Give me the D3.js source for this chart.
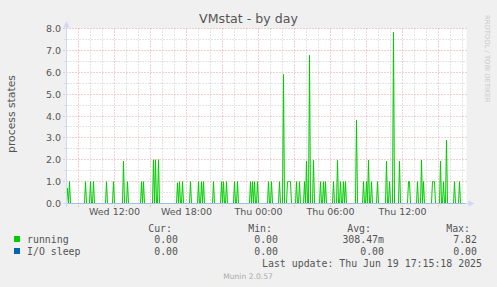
<!DOCTYPE html>
<html>
<head>
<meta charset="utf-8">
<script src="https://cdn.jsdelivr.net/npm/d3@7"></script>
<style>
  body { margin: 0; background: #f0f0f0; }
  svg { display: block; }
</style>
</head>
<body>
<svg id="chart" width="497" height="287"></svg>
<script>
const title = "VMstat - by day";
const yTitle = "process states";
const startTime = new Date(2025, 5, 18, 8, 0, 0);   // Wed 08:00, first 5 min sample
const sampleCount = 400;                              // 400 samples x 5 min
const yTickValues = [0, 1, 2, 3, 4, 5, 6, 7, 8];

// running: 5 min sample index -> value (every other sample reads 0)
const runningSlot = [1, 3, 19, 24, 27, 40, 47, 57, 61, 75, 77, 87, 89, 92,
  111, 113, 116, 124, 132, 135, 137, 147, 155, 157, 160, 168, 171,
  184, 186, 188, 191, 202, 205, 213, 217, 221, 222, 223, 224, 230, 233,
  238, 240, 243, 247, 254, 257, 259, 267, 271, 274, 277, 279, 290,
  297, 300, 302, 305, 311, 320, 323, 327, 333, 342, 343, 351, 355, 357,
  366, 367, 368, 374, 377, 380, 388, 393];
const runningValue = [0.7, 1, 1, 1, 1, 1, 1, 1.94, 1, 1, 1, 2, 2, 2,
  0.95, 1, 1, 1, 1, 1, 1, 1, 1, 1, 1, 1, 1,
  1, 1, 1, 1, 1, 1, 1, 5.9, 1, 1, 1, 1, 1, 1,
  1, 1.94, 6.79, 1.97, 1, 1, 1, 1, 1.97, 1, 1, 1, 3.82,
  1, 1, 1.99, 1, 1, 1.94, 1, 7.82, 1.94, 1, 1, 1, 1.99, 1,
  1, 1, 1, 1.94, 1, 2.9, 1, 1];
// I/O sleep: no non-zero samples
const ioSleepSlot = [];
const ioSleepValue = [];

const legendNames = ["running", "I/O sleep"];
const legendColors = ["#00cc00", "#0066b3"];
const legendHeaders = ["Cur:", "Min:", "Avg:", "Max:"];
const legendCur = ["0.00", "0.00"];
const legendMin = ["0.00", "0.00"];
const legendAvg = ["308.47m", "0.00"];
const legendMax = ["7.82", "0.00"];
const lastUpdate = "Last update: Thu Jun 19 17:15:18 2025";
const footer = "Munin 2.0.57";
const sideMark = "RRDTOOL / TOBI OETIKER";

const svg = d3.select("#chart");
const fontColor = "#555";
const axisColor = "#cfd6f8";

const x = d3.scaleTime()
  .domain([startTime, d3.timeMinute.offset(startTime, sampleCount * 5)])
  .range([66.5, 466.5]);
const y = d3.scaleLinear().domain([0, 8]).range([203.5, 28.5]);
const py = v => Math.floor(y(v)) + 0.5;

const buildSeries = (slots, vals) => d3.range(sampleCount).map(i => {
  const k = slots.indexOf(i);
  return { t: d3.timeMinute.offset(startTime, i * 5), v: k < 0 ? 0 : vals[k] };
});

// canvas
svg.append("rect")
  .attr("x", 66.5).attr("y", 28.5)
  .attr("width", 400).attr("height", 175)
  .attr("fill", "#fff");

const grid = svg.append("g").attr("fill", "none").attr("stroke-width", 1);

// minor grid
const minorX = x.ticks(d3.timeHour.every(1)).filter(d => d.getHours() % 3 !== 0);
grid.selectAll(".vmin").data(minorX).enter().append("line")
  .attr("x1", d => x(d)).attr("x2", d => x(d))
  .attr("y1", 28.5).attr("y2", 205.5)
  .attr("stroke", "#c8c8c8").attr("stroke-dasharray", "1,2");
const minorY = d3.range(0.5, 8, 1);
grid.selectAll(".hmin").data(minorY).enter().append("line")
  .attr("x1", 64.5).attr("x2", 466.5)
  .attr("y1", d => py(d)).attr("y2", d => py(d))
  .attr("stroke", "#c8c8c8").attr("stroke-dasharray", "1,2");

// major grid
const majorX = x.ticks(d3.timeHour.every(3));
grid.selectAll(".vmaj").data(majorX).enter().append("line")
  .attr("x1", d => x(d)).attr("x2", d => x(d))
  .attr("y1", 28.5).attr("y2", 206.5)
  .attr("stroke", "#e8a0a0").attr("stroke-dasharray", "1,2");
grid.selectAll(".hmaj").data(yTickValues.slice(1)).enter().append("line")
  .attr("x1", 63.5).attr("x2", 466.5)
  .attr("y1", d => py(d)).attr("y2", d => py(d))
  .attr("stroke", "#e8a0a0").attr("stroke-dasharray", "1,2");

// series
const line = d3.line().x(d => x(d.t)).y(d => y(d.v));
svg.append("path")
  .datum(buildSeries(runningSlot, runningValue))
  .attr("d", line)
  .attr("fill", "none").attr("stroke", legendColors[0]).attr("stroke-width", 1);
svg.append("path")
  .datum(buildSeries(ioSleepSlot, ioSleepValue))
  .attr("d", line)
  .attr("fill", "none").attr("stroke", legendColors[1]).attr("stroke-width", 1);

// axes + arrows
svg.append("line")
  .attr("x1", 62.5).attr("x2", 469).attr("y1", 203.5).attr("y2", 203.5)
  .attr("stroke", axisColor).attr("stroke-opacity", 0.75);
svg.append("line")
  .attr("x1", 66.5).attr("x2", 66.5).attr("y1", 207).attr("y2", 25)
  .attr("stroke", axisColor);
svg.append("path")
  .attr("d", "M468.5,200.5L474.5,203.5L468.5,206.5Z")
  .attr("fill", axisColor);
svg.append("path")
  .attr("d", "M63.5,27.5L66.5,21L69.5,27.5Z")
  .attr("fill", axisColor);

// y labels
svg.append("g").selectAll("text").data(yTickValues).enter().append("text")
  .attr("x", 61).attr("y", d => py(d) + 3.5)
  .attr("text-anchor", "end")
  .attr("font-family", "DejaVu Sans").attr("font-size", 9.5)
  .attr("fill", fontColor)
  .text(d => d.toFixed(1));

// x labels
const fmt = d3.timeFormat("%a %H:%M");
svg.append("g").selectAll("text").data(x.ticks(d3.timeHour.every(6))).enter().append("text")
  .attr("x", d => x(d)).attr("y", 215)
  .attr("text-anchor", "middle")
  .attr("font-family", "DejaVu Sans").attr("font-size", 9.5)
  .attr("fill", fontColor)
  .text(d => fmt(d));

// titles
svg.append("text")
  .attr("x", 248.5).attr("y", 23)
  .attr("text-anchor", "middle")
  .attr("font-family", "DejaVu Sans").attr("font-size", 12.6)
  .attr("fill", fontColor)
  .text(title);
svg.append("text")
  .attr("transform", "translate(15,114) rotate(-90)")
  .attr("text-anchor", "middle")
  .attr("font-family", "DejaVu Sans").attr("font-size", 10.8)
  .attr("fill", fontColor)
  .text(yTitle);
svg.append("text")
  .attr("transform", "translate(484.5,15) rotate(90)")
  .attr("font-family", "DejaVu Sans").attr("font-size", 6.8)
  .attr("fill", "#c8c8c8")
  .text(sideMark);

// legend
const mono = "DejaVu Sans Mono";
const headerX = [172, 272, 371, 470];
const valueX = [178, 278, 384, 477];
const legend = svg.append("g")
  .attr("font-family", mono).attr("font-size", 9.9).attr("fill", fontColor);
legend.selectAll(".hdr").data(legendHeaders).enter().append("text")
  .attr("x", (d, i) => headerX[i]).attr("y", 231.5)
  .attr("text-anchor", "end").text(d => d);
const columns = [legendCur, legendMin, legendAvg, legendMax];
legendNames.forEach((name, r) => {
  const by = 242.5 + r * 12;
  legend.append("rect")
    .attr("x", 14).attr("y", by - 6.5).attr("width", 6).attr("height", 6)
    .attr("fill", legendColors[r]);
  legend.append("text").attr("x", 27).attr("y", by).text(name);
  columns.forEach((col, c) => {
    legend.append("text")
      .attr("x", valueX[c]).attr("y", by)
      .attr("text-anchor", "end").text(col[r]);
  });
});
legend.append("text")
  .attr("x", 482).attr("y", 266.5)
  .attr("text-anchor", "end").text(lastUpdate);

svg.append("text")
  .attr("x", 248).attr("y", 279)
  .attr("text-anchor", "middle")
  .attr("font-family", "DejaVu Sans").attr("font-size", 7.6)
  .attr("fill", "#aaa")
  .text(footer);
</script>
</body>
</html>
